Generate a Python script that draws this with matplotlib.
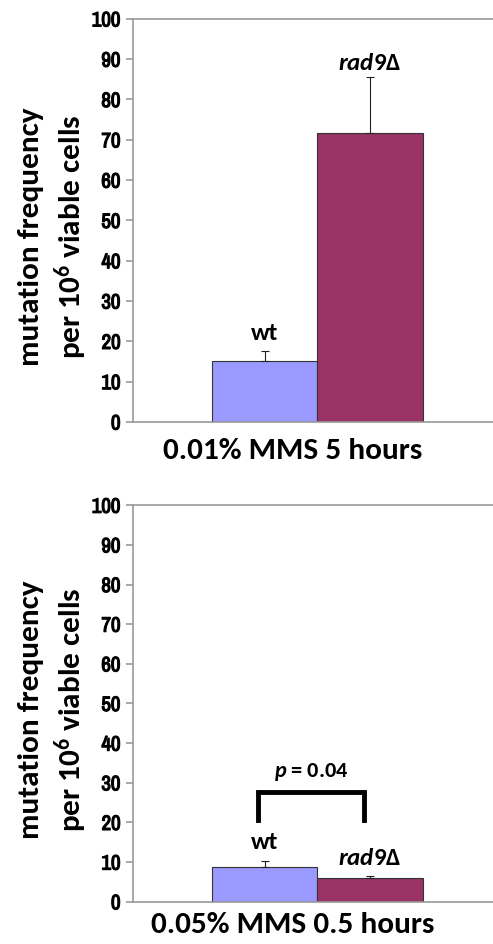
import numpy as np
import matplotlib
matplotlib.use("Agg")
import matplotlib.pyplot as plt
import matplotlib.patheffects as pe
import logging
logging.getLogger('matplotlib.font_manager').setLevel(logging.ERROR)

plt.rcParams['font.family'] = ['Carlito', 'Open Sans', 'DejaVu Sans']
plt.rcParams['mathtext.fontset'] = 'custom'
plt.rcParams['mathtext.rm'] = 'Carlito:bold'
plt.rcParams['mathtext.it'] = 'Carlito:bold:italic'
plt.rcParams['mathtext.bf'] = 'Carlito:bold'

strains = ['wt', 'rad9']
colors = ['#9999FF', '#993366']
conditions = ['0.01% MMS 5 hours', '0.05% MMS 0.5 hours']
means = [[15.2, 71.8], [8.7, 6.0]]
errs = [[2.5, 13.7], [1.6, 0.6]]
label_y = [[22, 89], [15, 11]]
yticks = list(range(0, 101, 10))
pval_text = r'$\mathit{p}$ = 0.04'
bracket_x = [-0.06, 0.94]
bracket_lo, bracket_hi = 20.6, 27.6

fig = plt.figure(figsize=(4.93, 9.44), dpi=100)
boxes = [[0.27, 0.553, 0.73, 0.427], [0.27, 0.0448, 0.73, 0.42]]
ylab_y = [0.46, 0.485]
xlab_y = [-0.072, -0.058]
tick_font = {'family': ['Arial Narrow', 'Archivo Narrow', 'Roboto Condensed', 'PT Sans Narrow',
                        'Open Sans Condensed', 'Liberation Sans'],
             'weight': 'bold', 'size': 15}
fake_bold = [pe.withStroke(linewidth=0.9, foreground='black')]

for i, box in enumerate(boxes):
    ax = fig.add_axes(box)
    x = np.arange(len(strains))
    ax.bar(x, means[i], width=1.0, color=colors, edgecolor='#333333', linewidth=0.8, zorder=2)
    ax.errorbar(x, means[i], yerr=[np.zeros(2), errs[i]], fmt='none', ecolor='#222222',
                elinewidth=0.8, capsize=3, capthick=0.8, zorder=3)
    ax.set_xlim(-1.246, 2.166)
    ax.set_ylim(0, 100)
    ax.set_yticks(yticks)
    labs = ax.set_yticklabels([str(t) for t in yticks], fontdict=tick_font)
    for lb in labs:
        lb.set_path_effects(fake_bold)
    ax.set_xticks([])
    for s in ['left', 'top', 'bottom']:
        ax.spines[s].set_color('#999999')
        ax.spines[s].set_linewidth(1.2)
    ax.spines['right'].set_visible(False)
    ax.tick_params(axis='y', color='#999999', length=5, width=1.2, pad=4)

    ax.text(0, label_y[i][0], 'wt', ha='center', va='center', fontsize=18, fontweight='bold')
    ax.text(1, label_y[i][1], r'$\mathit{rad9}$Δ', ha='center', va='center', fontsize=18,
            fontweight='bold')

    ax.set_ylabel('mutation frequency\nper 10$^{6}$ viable cells', fontsize=22.5, fontweight='bold',
                  linespacing=1.3)
    ax.yaxis.set_label_coords(-0.122, ylab_y[i])
    ax.text(0.443, xlab_y[i], conditions[i], transform=ax.transAxes, ha='center', va='center',
            fontsize=22.5, fontweight='bold')

    if i == 1:
        ax.plot([bracket_x[0], bracket_x[0], bracket_x[1], bracket_x[1]],
                [bracket_lo, bracket_hi, bracket_hi, bracket_lo], color='black', lw=3.5,
                solid_joinstyle='miter', zorder=4)
        ax.text(np.mean(bracket_x), 32.8, pval_text, ha='center', va='center', fontsize=16,
                fontweight='bold')

fig.savefig('out.png', dpi=100)
